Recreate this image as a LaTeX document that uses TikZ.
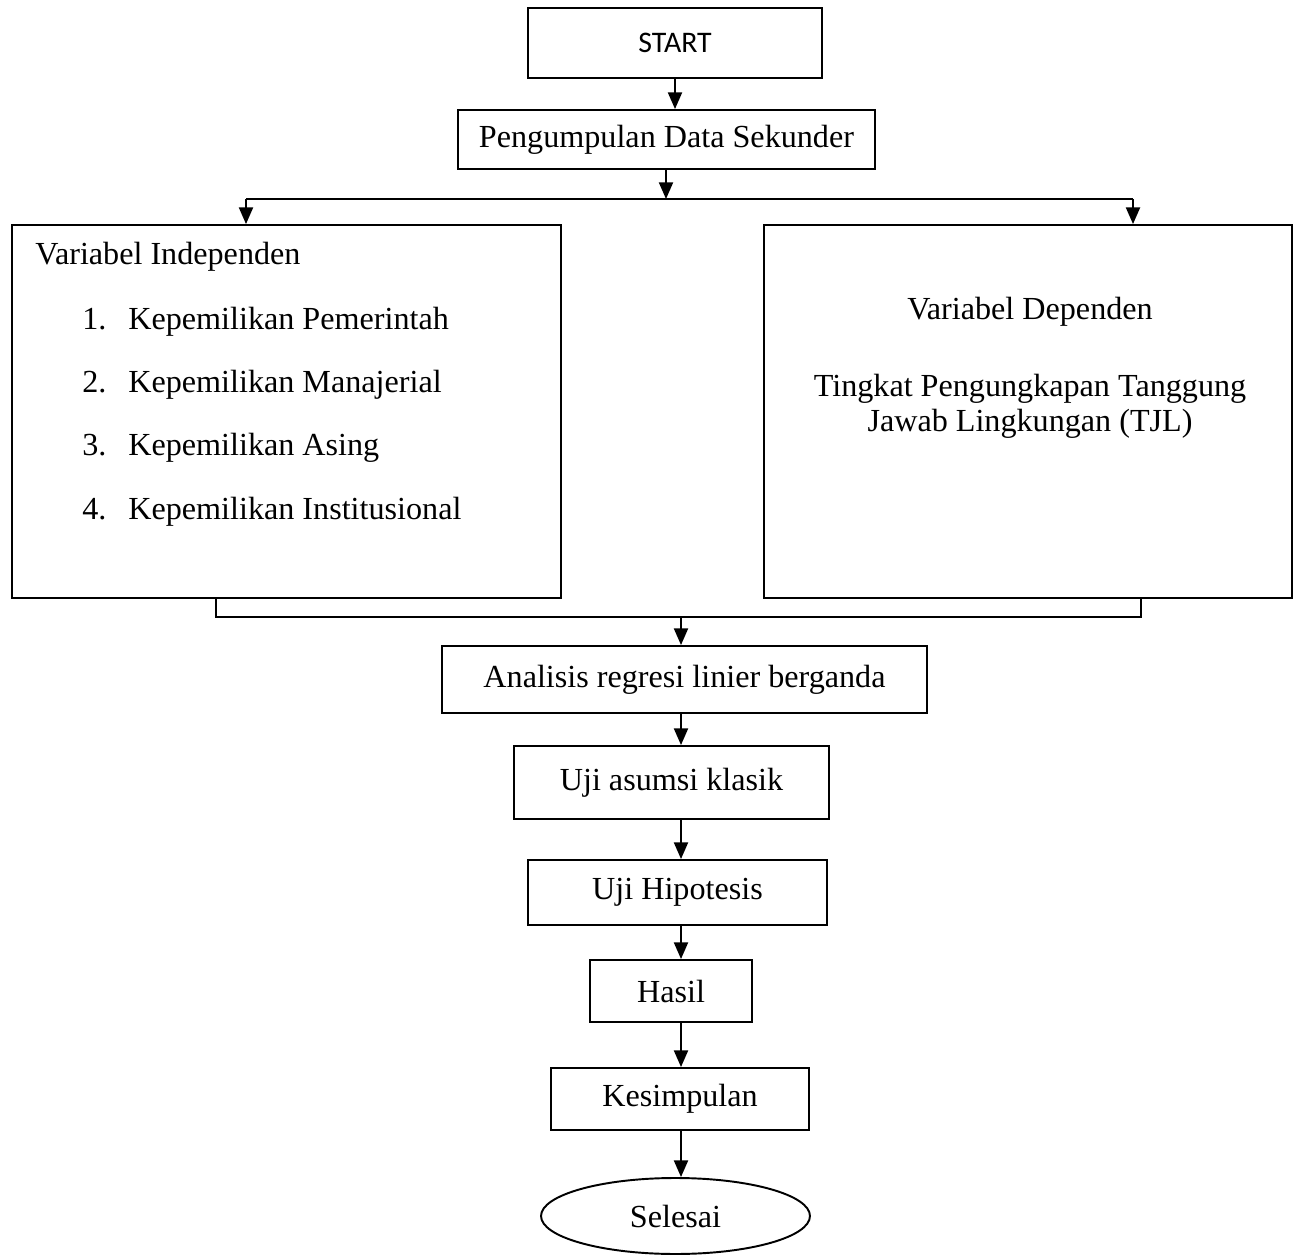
\documentclass[tikz,border=0pt]{standalone}
\usepackage{fontspec}
\setmainfont{Liberation Serif}
\newfontfamily\startfont{Carlito}
\usetikzlibrary{arrows.meta,shapes.geometric}

\begin{document}
\begin{tikzpicture}[x=0.02cm,y=-0.02cm,
  font=\fontsize{18.3}{20}\selectfont,
  kotak/.style={draw, line width=1.1pt, inner sep=0pt},
  teks/.style={inner sep=0pt},
  panah/.style={line width=1.1pt, -{Triangle[width=8pt,length=9.5pt]}},
  garis/.style={line width=1.1pt}]
\useasboundingbox (0,0) rectangle (1295,1256);

\node[kotak, minimum width=5.88cm, minimum height=1.4cm, font=\startfont\fontsize{17}{20}\selectfont] (start) at (675,43) {START};
\node[kotak, minimum width=8.34cm, minimum height=1.18cm] (kumpul) at (666.5,139.5) {Pengumpulan Data Sekunder};

\node[kotak, minimum width=10.98cm, minimum height=7.46cm] (indep) at (286.5,411.5) {};
\node[kotak, minimum width=10.56cm, minimum height=7.46cm] (dep) at (1028,411.5) {};

\node[teks, anchor=base west] (indeptitle) at (35,265) {Variabel Independen};
\node[teks, anchor=base west] (no1) at (82,330) {1.};
\node[teks, anchor=base west] (var1) at (128,330) {Kepemilikan Pemerintah};
\node[teks, anchor=base west] (no2) at (82,393) {2.};
\node[teks, anchor=base west] (var2) at (128,393) {Kepemilikan Manajerial};
\node[teks, anchor=base west] (no3) at (82,456) {3.};
\node[teks, anchor=base west] (var3) at (128,456) {Kepemilikan Asing};
\node[teks, anchor=base west] (no4) at (82,520) {4.};
\node[teks, anchor=base west] (var4) at (128,520) {Kepemilikan Institusional};

\node[teks, anchor=base] (deptitle) at (1030,320) {Variabel Dependen};
\node[teks, anchor=base] (tjl1) at (1030,397) {Tingkat Pengungkapan Tanggung};
\node[teks, anchor=base] (tjl2) at (1030,432) {Jawab Lingkungan (TJL)};

\node[kotak, minimum width=9.7cm, minimum height=1.34cm] (regresi) at (684.5,679.5) {Analisis regresi linier berganda};
\node[kotak, minimum width=6.3cm, minimum height=1.46cm] (asumsi) at (671.5,782.5) {Uji asumsi klasik};
\node[kotak, minimum width=5.98cm, minimum height=1.3cm] (hipotesis) at (677.5,892.5) {Uji Hipotesis};
\node[kotak, minimum width=3.24cm, minimum height=1.24cm] (hasil) at (671,991) {Hasil};
\node[kotak, minimum width=5.16cm, minimum height=1.24cm] (simpulan) at (680,1099) {Kesimpulan};
\node[kotak, ellipse, minimum width=5.38cm, minimum height=1.52cm] (selesai) at (675.5,1216) {Selesai};

% percabangan
\coordinate (topaxis) at (675,0);
\coordinate (split) at (666,199);
\coordinate (lsplit) at (246,199);
\coordinate (rsplit) at (1133,199);
\draw[panah] (start.south -| topaxis) -- (kumpul.north -| topaxis);
\draw[panah] (kumpul.south -| split) -- (split);
\draw[garis] (lsplit) -- (rsplit);
\draw[panah] (lsplit) -- (lsplit |- indep.north);
\draw[panah] (rsplit) -- (rsplit |- dep.north);

% penggabungan
\coordinate (lmerge) at (216,617);
\coordinate (rmerge) at (1141,617);
\coordinate (axis) at (681,0);
\draw[garis] (lmerge |- indep.south) -- (lmerge) -- (rmerge) -- (rmerge |- dep.south);
\draw[panah] (axis |- lmerge) -- (axis |- regresi.north);

\draw[panah] (regresi.south -| axis) -- (asumsi.north -| axis);
\draw[panah] (asumsi.south -| axis) -- (hipotesis.north -| axis);
\draw[panah] (hipotesis.south -| axis) -- (hasil.north -| axis);
\draw[panah] (hasil.south -| axis) -- (simpulan.north -| axis);
\draw[panah] (simpulan.south -| axis) -- (selesai.north -| axis);
\end{tikzpicture}
\end{document}
